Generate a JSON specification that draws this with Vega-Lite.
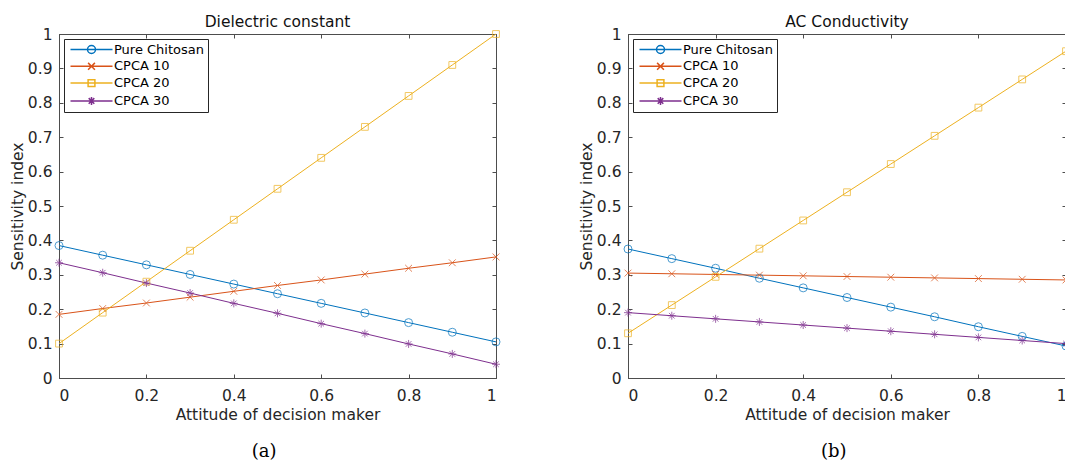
{
  "$schema": "https://vega.github.io/schema/vega-lite/v6.json",
  "background": "white",
  "padding": {"left": 9, "top": 14, "right": 0, "bottom": 0},
  "spacing": 75,
  "config": {
    "view": {"stroke": "#4d4d4d", "strokeWidth": 1},
    "font": "DejaVu Sans",
    "axis": {
      "grid": false,
      "domainColor": "#4d4d4d",
      "tickColor": "#4d4d4d",
      "tickSize": -4,
      "labelFont": "DejaVu Sans",
      "labelFontSize": 15.5,
      "labelColor": "#262626",
      "titleFont": "DejaVu Sans",
      "titleFontSize": 15.5,
      "titleFontWeight": "normal",
      "titleColor": "#262626"
    },
    "title": {"font": "DejaVu Sans", "fontSize": 15.5, "fontWeight": "normal", "color": "#111111", "offset": -3},
    "legend": {
      "orient": "top-left",
      "offset": 5,
      "padding": 4,
      "strokeColor": "#262626",
      "fillColor": "white",
      "labelFont": "DejaVu Sans",
      "labelFontSize": 13,
      "labelColor": "#000000",
      "labelOffset": 33,
      "symbolSize": 64,
      "rowPadding": 2.8,
      "title": null
    }
  },
  "datasets": {
    "d": [
      {"panel": "a", "series": "Pure Chitosan", "x": 0, "y": 0.385},
      {"panel": "a", "series": "Pure Chitosan", "x": 0.1, "y": 0.357},
      {"panel": "a", "series": "Pure Chitosan", "x": 0.2, "y": 0.329},
      {"panel": "a", "series": "Pure Chitosan", "x": 0.3, "y": 0.301},
      {"panel": "a", "series": "Pure Chitosan", "x": 0.4, "y": 0.273},
      {"panel": "a", "series": "Pure Chitosan", "x": 0.5, "y": 0.245},
      {"panel": "a", "series": "Pure Chitosan", "x": 0.6, "y": 0.217},
      {"panel": "a", "series": "Pure Chitosan", "x": 0.7, "y": 0.189},
      {"panel": "a", "series": "Pure Chitosan", "x": 0.8, "y": 0.161},
      {"panel": "a", "series": "Pure Chitosan", "x": 0.9, "y": 0.133},
      {"panel": "a", "series": "Pure Chitosan", "x": 1, "y": 0.105},
      {"panel": "a", "series": "CPCA 10", "x": 0, "y": 0.185},
      {"panel": "a", "series": "CPCA 10", "x": 0.1, "y": 0.202},
      {"panel": "a", "series": "CPCA 10", "x": 0.2, "y": 0.218},
      {"panel": "a", "series": "CPCA 10", "x": 0.3, "y": 0.235},
      {"panel": "a", "series": "CPCA 10", "x": 0.4, "y": 0.252},
      {"panel": "a", "series": "CPCA 10", "x": 0.5, "y": 0.269},
      {"panel": "a", "series": "CPCA 10", "x": 0.6, "y": 0.285},
      {"panel": "a", "series": "CPCA 10", "x": 0.7, "y": 0.302},
      {"panel": "a", "series": "CPCA 10", "x": 0.8, "y": 0.319},
      {"panel": "a", "series": "CPCA 10", "x": 0.9, "y": 0.335},
      {"panel": "a", "series": "CPCA 10", "x": 1, "y": 0.352},
      {"panel": "a", "series": "CPCA 20", "x": 0, "y": 0.1},
      {"panel": "a", "series": "CPCA 20", "x": 0.1, "y": 0.19},
      {"panel": "a", "series": "CPCA 20", "x": 0.2, "y": 0.28},
      {"panel": "a", "series": "CPCA 20", "x": 0.3, "y": 0.37},
      {"panel": "a", "series": "CPCA 20", "x": 0.4, "y": 0.46},
      {"panel": "a", "series": "CPCA 20", "x": 0.5, "y": 0.55},
      {"panel": "a", "series": "CPCA 20", "x": 0.6, "y": 0.64},
      {"panel": "a", "series": "CPCA 20", "x": 0.7, "y": 0.73},
      {"panel": "a", "series": "CPCA 20", "x": 0.8, "y": 0.82},
      {"panel": "a", "series": "CPCA 20", "x": 0.9, "y": 0.91},
      {"panel": "a", "series": "CPCA 20", "x": 1, "y": 1.0},
      {"panel": "a", "series": "CPCA 30", "x": 0, "y": 0.335},
      {"panel": "a", "series": "CPCA 30", "x": 0.1, "y": 0.306},
      {"panel": "a", "series": "CPCA 30", "x": 0.2, "y": 0.276},
      {"panel": "a", "series": "CPCA 30", "x": 0.3, "y": 0.247},
      {"panel": "a", "series": "CPCA 30", "x": 0.4, "y": 0.217},
      {"panel": "a", "series": "CPCA 30", "x": 0.5, "y": 0.188},
      {"panel": "a", "series": "CPCA 30", "x": 0.6, "y": 0.158},
      {"panel": "a", "series": "CPCA 30", "x": 0.7, "y": 0.129},
      {"panel": "a", "series": "CPCA 30", "x": 0.8, "y": 0.099},
      {"panel": "a", "series": "CPCA 30", "x": 0.9, "y": 0.070},
      {"panel": "a", "series": "CPCA 30", "x": 1, "y": 0.040},
      {"panel": "b", "series": "Pure Chitosan", "x": 0, "y": 0.375},
      {"panel": "b", "series": "Pure Chitosan", "x": 0.1, "y": 0.347},
      {"panel": "b", "series": "Pure Chitosan", "x": 0.2, "y": 0.319},
      {"panel": "b", "series": "Pure Chitosan", "x": 0.3, "y": 0.290},
      {"panel": "b", "series": "Pure Chitosan", "x": 0.4, "y": 0.262},
      {"panel": "b", "series": "Pure Chitosan", "x": 0.5, "y": 0.234},
      {"panel": "b", "series": "Pure Chitosan", "x": 0.6, "y": 0.206},
      {"panel": "b", "series": "Pure Chitosan", "x": 0.7, "y": 0.178},
      {"panel": "b", "series": "Pure Chitosan", "x": 0.8, "y": 0.149},
      {"panel": "b", "series": "Pure Chitosan", "x": 0.9, "y": 0.121},
      {"panel": "b", "series": "Pure Chitosan", "x": 1, "y": 0.093},
      {"panel": "b", "series": "CPCA 10", "x": 0, "y": 0.305},
      {"panel": "b", "series": "CPCA 10", "x": 0.1, "y": 0.303},
      {"panel": "b", "series": "CPCA 10", "x": 0.2, "y": 0.301},
      {"panel": "b", "series": "CPCA 10", "x": 0.3, "y": 0.299},
      {"panel": "b", "series": "CPCA 10", "x": 0.4, "y": 0.297},
      {"panel": "b", "series": "CPCA 10", "x": 0.5, "y": 0.295},
      {"panel": "b", "series": "CPCA 10", "x": 0.6, "y": 0.293},
      {"panel": "b", "series": "CPCA 10", "x": 0.7, "y": 0.291},
      {"panel": "b", "series": "CPCA 10", "x": 0.8, "y": 0.289},
      {"panel": "b", "series": "CPCA 10", "x": 0.9, "y": 0.287},
      {"panel": "b", "series": "CPCA 10", "x": 1, "y": 0.285},
      {"panel": "b", "series": "CPCA 20", "x": 0, "y": 0.13},
      {"panel": "b", "series": "CPCA 20", "x": 0.1, "y": 0.212},
      {"panel": "b", "series": "CPCA 20", "x": 0.2, "y": 0.294},
      {"panel": "b", "series": "CPCA 20", "x": 0.3, "y": 0.376},
      {"panel": "b", "series": "CPCA 20", "x": 0.4, "y": 0.458},
      {"panel": "b", "series": "CPCA 20", "x": 0.5, "y": 0.54},
      {"panel": "b", "series": "CPCA 20", "x": 0.6, "y": 0.622},
      {"panel": "b", "series": "CPCA 20", "x": 0.7, "y": 0.704},
      {"panel": "b", "series": "CPCA 20", "x": 0.8, "y": 0.786},
      {"panel": "b", "series": "CPCA 20", "x": 0.9, "y": 0.868},
      {"panel": "b", "series": "CPCA 20", "x": 1, "y": 0.95},
      {"panel": "b", "series": "CPCA 30", "x": 0, "y": 0.19},
      {"panel": "b", "series": "CPCA 30", "x": 0.1, "y": 0.181},
      {"panel": "b", "series": "CPCA 30", "x": 0.2, "y": 0.172},
      {"panel": "b", "series": "CPCA 30", "x": 0.3, "y": 0.163},
      {"panel": "b", "series": "CPCA 30", "x": 0.4, "y": 0.154},
      {"panel": "b", "series": "CPCA 30", "x": 0.5, "y": 0.145},
      {"panel": "b", "series": "CPCA 30", "x": 0.6, "y": 0.136},
      {"panel": "b", "series": "CPCA 30", "x": 0.7, "y": 0.127},
      {"panel": "b", "series": "CPCA 30", "x": 0.8, "y": 0.118},
      {"panel": "b", "series": "CPCA 30", "x": 0.9, "y": 0.109},
      {"panel": "b", "series": "CPCA 30", "x": 1, "y": 0.100}
    ]
  },
  "hconcat": [
    {
      "title": {"text": "(a)", "orient": "bottom", "anchor": "middle", "font": "DejaVu Serif", "fontSize": 18, "color": "#000000", "offset": 19, "dx": 8},
      "hconcat": [
        {
          "width": 437,
          "height": 344,
          "title": {"text": "Dielectric constant"},
          "data": {"name": "d"},
          "transform": [{"filter": "datum.panel === 'a'"}],
          "layer": [
            {
              "mark": {"type": "line", "strokeWidth": 1},
              "encoding": {
                "x": {"field": "x", "type": "quantitative", "scale": {"domain": [0, 1]},
                  "axis": {"orient": "bottom", "values": [0, 0.2, 0.4, 0.6, 0.8, 1], "format": "~g", "labelPadding": 14, "title": "Attitude of decision maker", "titlePadding": 4}},
                "y": {"field": "y", "type": "quantitative", "scale": {"domain": [0, 1]},
                  "axis": {"orient": "left", "values": [0, 0.1, 0.2, 0.3, 0.4, 0.5, 0.6, 0.7, 0.8, 0.9, 1], "format": "~g", "labelPadding": 11, "title": "Sensitivity index", "titlePadding": 2}},
                "color": {"field": "series", "type": "nominal", "legend": null,
                  "scale": {"domain": ["Pure Chitosan", "CPCA 10", "CPCA 20", "CPCA 30"], "range": ["#0072BD", "#D95319", "#EDB120", "#7E2F8E"]}}
              }
            },
            {
              "mark": {"type": "point", "filled": false, "strokeWidth": 1, "size": 64},
              "encoding": {
                "x": {"field": "x", "type": "quantitative", "scale": {"domain": [0, 1]},
                  "axis": {"orient": "top", "values": [0, 0.2, 0.4, 0.6, 0.8, 1], "labels": false, "title": null, "domain": false}},
                "y": {"field": "y", "type": "quantitative", "scale": {"domain": [0, 1]},
                  "axis": {"orient": "right", "values": [0, 0.1, 0.2, 0.3, 0.4, 0.5, 0.6, 0.7, 0.8, 0.9, 1], "labels": false, "title": null, "domain": false}},
                "color": {"field": "series", "type": "nominal", "legend": null,
                  "scale": {"domain": ["Pure Chitosan", "CPCA 10", "CPCA 20", "CPCA 30"], "range": ["#0072BD", "#D95319", "#EDB120", "#7E2F8E"]}},
                "shape": {"field": "series", "type": "nominal", "legend": null,
                  "scale": {"domain": ["Pure Chitosan", "CPCA 10", "CPCA 20", "CPCA 30"], "range": ["circle", "M-0.85,-0.85L0.85,0.85M-0.85,0.85L0.85,-0.85", "M-0.85,-0.85H0.85V0.85H-0.85Z", "M-1,0H1M0,-1V1M-0.7,-0.7L0.7,0.7M-0.7,0.7L0.7,-0.7"]}}
              }
            },
            {
              "transform": [{"filter": "datum.x === 0"}],
              "mark": {"type": "point", "filled": false, "strokeWidth": 1, "size": 64, "opacity": 0},
              "encoding": {
                "x": {"field": "x", "type": "quantitative", "axis": null},
                "y": {"field": "y", "type": "quantitative", "axis": null},
                "color": {"field": "series", "type": "nominal",
                  "scale": {"domain": ["Pure Chitosan", "CPCA 10", "CPCA 20", "CPCA 30"], "range": ["#0072BD", "#D95319", "#EDB120", "#7E2F8E"]}},
                "shape": {"field": "series", "type": "nominal",
                  "scale": {"domain": ["Pure Chitosan", "CPCA 10", "CPCA 20", "CPCA 30"], "range": ["M-1,0H9.5M5.25,0A1,1,0,1,1,3.25,0A1,1,0,1,1,5.25,0Z", "M-1,0H9.5M3.4,-0.85L5.1,0.85M3.4,0.85L5.1,-0.85", "M-1,0H9.5M3.4,-0.85H5.1V0.85H3.4Z", "M-1,0H9.5M4.25,-1V1M3.55,-0.7L4.95,0.7M3.55,0.7L4.95,-0.7"]}}
              }
            }
          ],
          "resolve": {"axis": {"x": "independent", "y": "independent"}, "scale": {"shape": "independent", "color": "independent"}, "legend": {"shape": "independent", "color": "independent"}}
        }
      ]
    },
    {
      "title": {"text": "(b)", "orient": "bottom", "anchor": "middle", "font": "DejaVu Serif", "fontSize": 18, "color": "#000000", "offset": 19, "dx": 8},
      "hconcat": [
        {
          "width": 438,
          "height": 344,
          "title": {"text": "AC Conductivity"},
          "data": {"name": "d"},
          "transform": [{"filter": "datum.panel === 'b'"}],
          "layer": [
            {
              "mark": {"type": "line", "strokeWidth": 1},
              "encoding": {
                "x": {"field": "x", "type": "quantitative", "scale": {"domain": [0, 1]},
                  "axis": {"orient": "bottom", "values": [0, 0.2, 0.4, 0.6, 0.8, 1], "format": "~g", "labelPadding": 14, "title": "Attitude of decision maker", "titlePadding": 4}},
                "y": {"field": "y", "type": "quantitative", "scale": {"domain": [0, 1]},
                  "axis": {"orient": "left", "values": [0, 0.1, 0.2, 0.3, 0.4, 0.5, 0.6, 0.7, 0.8, 0.9, 1], "format": "~g", "labelPadding": 11, "title": "Sensitivity index", "titlePadding": 2}},
                "color": {"field": "series", "type": "nominal", "legend": null,
                  "scale": {"domain": ["Pure Chitosan", "CPCA 10", "CPCA 20", "CPCA 30"], "range": ["#0072BD", "#D95319", "#EDB120", "#7E2F8E"]}}
              }
            },
            {
              "mark": {"type": "point", "filled": false, "strokeWidth": 1, "size": 64},
              "encoding": {
                "x": {"field": "x", "type": "quantitative", "scale": {"domain": [0, 1]},
                  "axis": {"orient": "top", "values": [0, 0.2, 0.4, 0.6, 0.8, 1], "labels": false, "title": null, "domain": false}},
                "y": {"field": "y", "type": "quantitative", "scale": {"domain": [0, 1]},
                  "axis": {"orient": "right", "values": [0, 0.1, 0.2, 0.3, 0.4, 0.5, 0.6, 0.7, 0.8, 0.9, 1], "labels": false, "title": null, "domain": false}},
                "color": {"field": "series", "type": "nominal", "legend": null,
                  "scale": {"domain": ["Pure Chitosan", "CPCA 10", "CPCA 20", "CPCA 30"], "range": ["#0072BD", "#D95319", "#EDB120", "#7E2F8E"]}},
                "shape": {"field": "series", "type": "nominal", "legend": null,
                  "scale": {"domain": ["Pure Chitosan", "CPCA 10", "CPCA 20", "CPCA 30"], "range": ["circle", "M-0.85,-0.85L0.85,0.85M-0.85,0.85L0.85,-0.85", "M-0.85,-0.85H0.85V0.85H-0.85Z", "M-1,0H1M0,-1V1M-0.7,-0.7L0.7,0.7M-0.7,0.7L0.7,-0.7"]}}
              }
            },
            {
              "transform": [{"filter": "datum.x === 0"}],
              "mark": {"type": "point", "filled": false, "strokeWidth": 1, "size": 64, "opacity": 0},
              "encoding": {
                "x": {"field": "x", "type": "quantitative", "axis": null},
                "y": {"field": "y", "type": "quantitative", "axis": null},
                "color": {"field": "series", "type": "nominal",
                  "scale": {"domain": ["Pure Chitosan", "CPCA 10", "CPCA 20", "CPCA 30"], "range": ["#0072BD", "#D95319", "#EDB120", "#7E2F8E"]}},
                "shape": {"field": "series", "type": "nominal",
                  "scale": {"domain": ["Pure Chitosan", "CPCA 10", "CPCA 20", "CPCA 30"], "range": ["M-1,0H9.5M5.25,0A1,1,0,1,1,3.25,0A1,1,0,1,1,5.25,0Z", "M-1,0H9.5M3.4,-0.85L5.1,0.85M3.4,0.85L5.1,-0.85", "M-1,0H9.5M3.4,-0.85H5.1V0.85H3.4Z", "M-1,0H9.5M4.25,-1V1M3.55,-0.7L4.95,0.7M3.55,0.7L4.95,-0.7"]}}
              }
            }
          ],
          "resolve": {"axis": {"x": "independent", "y": "independent"}, "scale": {"shape": "independent", "color": "independent"}, "legend": {"shape": "independent", "color": "independent"}}
        }
      ]
    }
  ],
  "resolve": {"scale": {"color": "independent", "shape": "independent"}, "legend": {"color": "independent", "shape": "independent"}}
}
